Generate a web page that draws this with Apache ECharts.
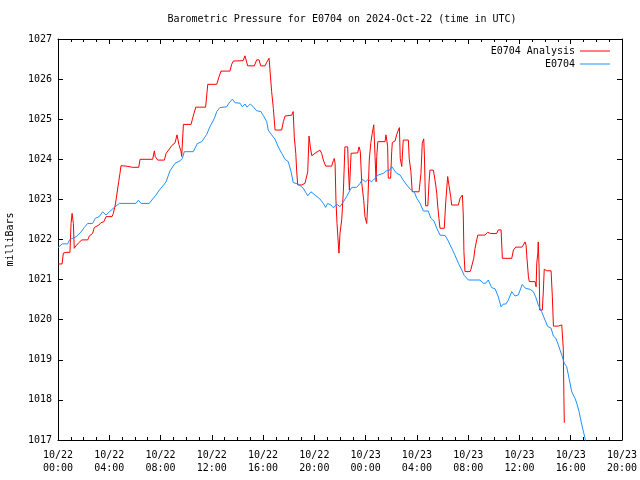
<!DOCTYPE html>
<html>
<head>
<meta charset="utf-8">
<script src="https://cdn.jsdelivr.net/npm/echarts@6/dist/echarts.min.js"></script>
<style>
html,body{margin:0;padding:0;background:#fff;}
#chart{width:640px;height:480px;}
</style>
</head>
<body>
<div id="chart"></div>
<script>
// Time labels are "DD HH:MM" in October 2024, UTC
const analysisTimes = ["22 00:00","22 00:19","22 00:25","22 00:37","22 00:45","22 00:56","22 01:01","22 01:06","22 01:12","22 01:16",
"22 01:24","22 01:37","22 01:52","22 02:19","22 02:27","22 02:42","22 02:50","22 03:11","22 03:21","22 03:34",
"22 03:45","22 04:13","22 04:19","22 04:28","22 04:35","22 04:44","22 04:50","22 04:55","22 05:18","22 05:50",
"22 06:18","22 06:24","22 07:23","22 07:31","22 07:35","22 07:47","22 08:18","22 08:26","22 08:38","22 08:52",
"22 09:08","22 09:17","22 09:26","22 09:36","22 09:39","22 09:47","22 10:23","22 10:29","22 10:45","22 11:31",
"22 11:41","22 12:23","22 12:34","22 12:43","22 13:25","22 13:33","22 13:41","22 14:27","22 14:35","22 14:48",
"22 15:19","22 15:30","22 15:41","22 15:49","22 16:09","22 16:17","22 16:28","22 16:40","22 16:48","22 16:56",
"22 17:27","22 17:35","22 17:43","22 18:14","22 18:21","22 18:26","22 18:33","22 18:37","22 18:42","22 19:01",
"22 19:16","22 19:24","22 19:29","22 19:35","22 19:41","22 19:48","22 20:03","22 20:26","22 20:34","22 20:42",
"22 20:53","22 21:21","22 21:29","22 21:33","22 21:37","22 21:41","22 21:46","22 21:52","22 21:55","22 22:00",
"22 22:08","22 22:16","22 22:23","22 22:28","22 22:36","22 22:39","22 22:44","22 22:52","22 23:23","22 23:29",
"22 23:35","22 23:42","22 23:51","22 23:57","23 00:05","23 00:10","23 00:17","23 00:24","23 00:31","23 00:38",
"23 00:44","23 00:49","23 00:52","23 00:57","23 01:31","23 01:35","23 01:39","23 01:43","23 01:46","23 01:57",
"23 02:02","23 02:05","23 02:18","23 02:25","23 02:33","23 02:38","23 02:42","23 02:49","23 02:56","23 03:20",
"23 03:24","23 03:32","23 03:38","23 04:10","23 04:19","23 04:25","23 04:32","23 04:35","23 04:38","23 04:41",
"23 04:51","23 04:57","23 05:01","23 05:17","23 05:21","23 05:28","23 05:33","23 05:37","23 05:43","23 05:48",
"23 06:08","23 06:15","23 06:21","23 06:24","23 06:32","23 06:38","23 06:43","23 07:14","23 07:22","23 07:33",
"23 07:37","23 07:40","23 07:45","23 08:09","23 08:13","23 08:19","23 08:26","23 08:32","23 08:40","23 08:45",
"23 09:19","23 09:31","23 09:38","23 09:45","23 10:13","23 10:21","23 10:34","23 10:40","23 11:24","23 11:32",
"23 11:43","23 12:11","23 12:18","23 12:26","23 12:31","23 12:34","23 12:42","23 12:46","23 13:13","23 13:18",
"23 13:21","23 13:26","23 13:28","23 13:32","23 13:35","23 13:41","23 13:47","23 13:52","23 13:56","23 14:08",
"23 14:28","23 14:34","23 14:39","23 15:02","23 15:18","23 15:22","23 15:25","23 15:28","23 15:30"];
const analysisValues = [1021.39,1021.39,1021.66,1021.68,1021.71,1021.68,1022.40,1022.65,1022.40,1021.78,
1021.84,1021.92,1021.99,1021.99,1022.09,1022.15,1022.30,1022.36,1022.42,1022.44,
1022.57,1022.57,1022.65,1022.86,1023.11,1023.44,1023.65,1023.84,1023.83,1023.80,
1023.80,1024.00,1024.00,1024.21,1024.07,1023.98,1023.98,1024.15,1024.23,1024.34,
1024.41,1024.61,1024.37,1024.19,1024.07,1024.87,1024.87,1025.00,1025.30,1025.30,
1025.87,1025.87,1026.06,1026.20,1026.20,1026.37,1026.45,1026.46,1026.58,1026.33,
1026.33,1026.48,1026.48,1026.33,1026.33,1026.42,1026.52,1025.69,1025.27,1024.73,
1024.73,1024.94,1025.08,1025.10,1025.19,1024.56,1024.15,1023.73,1023.36,1023.36,
1023.40,1023.40,1023.69,1024.58,1024.31,1024.09,1024.15,1024.23,1024.15,1023.98,
1023.83,1023.83,1023.97,1024.02,1023.90,1022.98,1022.40,1021.91,1021.66,1022.15,
1022.49,1023.23,1024.31,1024.33,1024.31,1023.82,1023.23,1024.15,1024.16,1024.31,
1024.20,1023.40,1022.98,1022.57,1022.40,1022.90,1023.98,1024.40,1024.65,1024.86,
1024.07,1023.44,1024.07,1024.44,1024.44,1024.61,1024.48,1024.31,1023.53,1023.53,
1024.19,1024.42,1024.46,1024.61,1024.73,1024.79,1024.02,1023.82,1024.48,1024.48,
1024.02,1023.69,1023.19,1023.19,1023.65,1024.40,1024.51,1024.11,1023.44,1022.84,
1022.84,1023.44,1023.73,1023.73,1023.61,1023.36,1023.15,1022.86,1022.53,1022.28,
1022.28,1022.94,1023.36,1023.57,1023.57,1023.07,1022.86,1022.86,1023.03,1023.11,
1022.61,1021.70,1021.20,1021.20,1021.26,1021.22,1021.53,1021.78,1021.99,1022.11,
1022.11,1022.18,1022.21,1022.15,1022.15,1022.24,1022.24,1021.53,1021.53,1021.74,
1021.81,1021.81,1021.86,1021.94,1021.86,1021.61,1021.07,1020.95,1020.95,1020.82,
1021.41,1021.66,1021.94,1021.30,1020.24,1020.20,1020.24,1020.74,1021.26,1021.22,
1021.22,1020.57,1019.84,1019.84,1019.87,1019.87,1019.29,1018.08,1017.43];

const stationTimes = ["22 00:00","22 00:20","22 00:45","22 00:55","22 01:25","22 01:48","22 02:03","22 02:19","22 02:42","22 02:55",
"22 03:13","22 03:29","22 03:45","22 04:00","22 04:24","22 04:47","22 06:05","22 06:16","22 06:29","22 07:07",
"22 07:23","22 07:39","22 07:54","22 08:10","22 08:26","22 08:44","22 09:08","22 09:31","22 09:42","22 09:51",
"22 10:33","22 10:52","22 11:13","22 11:36","22 11:51","22 12:12","22 12:23","22 12:38","22 13:10","22 13:20",
"22 13:36","22 13:49","22 14:12","22 14:23","22 14:35","22 14:45","22 15:00","22 15:14","22 15:30","22 15:50",
"22 16:01","22 16:17","22 16:24","22 16:40","22 16:56","22 17:11","22 17:27","22 17:43","22 17:58","22 18:11",
"22 18:21","22 18:45","22 19:08","22 19:29","22 19:44","22 20:03","22 20:26","22 20:42","22 20:53","22 21:02",
"22 21:18","22 21:29","22 21:45","22 22:00","22 22:16","22 22:31","22 22:47","22 22:55","22 23:18","22 23:34",
"22 23:44","23 00:00","23 00:12","23 00:28","23 00:44","23 00:59","23 01:23","23 01:39","23 01:49","23 02:02",
"23 02:14","23 02:25","23 02:41","23 02:56","23 03:12","23 03:28","23 03:48","23 03:59","23 04:15","23 04:30",
"23 04:53","23 05:05","23 05:20","23 05:33","23 05:48","23 06:12","23 06:27","23 06:43","23 06:58","23 07:14",
"23 07:30","23 07:42","23 08:01","23 08:55","23 09:11","23 09:22","23 09:34","23 09:50","23 10:06","23 10:21",
"23 10:34","23 10:44","23 10:56","23 11:08","23 11:24","23 11:39","23 11:55","23 12:13","23 12:29","23 12:49",
"23 13:05","23 13:16","23 13:28","23 13:44","23 13:52","23 14:00","23 14:12","23 14:28","23 14:39","23 14:50",
"23 15:02","23 15:18","23 15:30","23 15:41","23 15:52","23 16:05","23 16:20","23 16:28","23 16:39","23 16:51",
"23 17:07","23 17:15"];
const stationValues = [1021.80,1021.89,1021.89,1022.00,1022.07,1022.19,1022.30,1022.40,1022.40,1022.53,
1022.57,1022.69,1022.61,1022.69,1022.80,1022.90,1022.90,1022.98,1022.90,1022.90,
1023.01,1023.11,1023.23,1023.33,1023.44,1023.71,1023.90,1023.96,1024.02,1024.19,
1024.19,1024.39,1024.44,1024.62,1024.81,1025.02,1025.19,1025.29,1025.31,1025.40,
1025.50,1025.41,1025.40,1025.31,1025.38,1025.30,1025.38,1025.31,1025.21,1025.19,
1025.09,1024.94,1024.73,1024.61,1024.50,1024.31,1024.15,1024.00,1023.94,1023.69,
1023.42,1023.38,1023.28,1023.09,1023.19,1023.11,1023.01,1022.90,1022.80,1022.90,
1022.86,1022.79,1022.88,1022.82,1022.94,1023.07,1023.23,1023.30,1023.30,1023.40,
1023.50,1023.44,1023.50,1023.44,1023.53,1023.61,1023.65,1023.72,1023.71,1023.82,
1023.73,1023.65,1023.61,1023.48,1023.36,1023.26,1023.18,1023.03,1022.90,1022.71,
1022.71,1022.53,1022.46,1022.28,1022.11,1022.10,1021.96,1021.78,1021.61,1021.41,
1021.24,1021.10,1020.99,1020.99,1020.91,1020.91,1020.99,1020.80,1020.77,1020.57,
1020.32,1020.39,1020.39,1020.49,1020.70,1020.59,1020.62,1020.88,1020.78,1020.76,
1020.70,1020.57,1020.37,1020.20,1020.09,1020.06,1019.83,1019.79,1019.59,1019.54,
1019.37,1019.12,1018.91,1018.83,1018.54,1018.20,1018.04,1017.92,1017.71,1017.40,
1017.04,1016.85];

const seriesNames = ["E0704 Analysis", "E0704"];
const seriesColors = ["#ff0000", "#1e90ff"];
const titleText = "Barometric Pressure for E0704 on 2024-Oct-22 (time in UTC)";
const yAxisTitle = "milliBars";
const xRangeHours = [0, 44];
const yRange = [1017, 1027];

function toHours(s) {
  const day = parseInt(s.slice(0, 2), 10);
  const hh = parseInt(s.slice(3, 5), 10);
  const mm = parseInt(s.slice(6, 8), 10);
  return (day - 22) * 24 + hh + mm / 60;
}
function pairs(times, vals) { return times.map((t, i) => [toHours(t), vals[i]]); }
function pad(n) { return (n < 10 ? "0" : "") + n; }

const FONT = "DejaVu Sans Mono";
const chart = echarts.init(document.getElementById("chart"), null, { renderer: "canvas" });

const xCommon = {
  type: "value", min: xRangeHours[0], max: xRangeHours[1], interval: 4,
  splitLine: { show: false },
  axisLine: { show: true, onZero: false, lineStyle: { color: "#000", width: 1 } },
  axisTick: { show: true, inside: true, length: 5, lineStyle: { color: "#000" } },
  minorTick: { show: true, splitNumber: 4, length: 3, lineStyle: { color: "#000" } },
  minorSplitLine: { show: false }
};
const yCommon = {
  type: "value", min: yRange[0], max: yRange[1], interval: 1,
  splitLine: { show: false },
  axisLine: { show: true, onZero: false, lineStyle: { color: "#000", width: 1 } },
  axisTick: { show: true, inside: true, length: 5, lineStyle: { color: "#000" } }
};

chart.setOption({
  animation: false,
  backgroundColor: "#fff",
  title: {
    text: titleText, left: 342, top: 14, textAlign: "center", padding: 0,
    textStyle: { fontFamily: FONT, fontSize: 10, fontWeight: "normal", color: "#000" }
  },
  legend: [
    { data: [seriesNames[0]], right: 25, top: 41, align: "right", orient: "vertical",
      icon: "rect", itemWidth: 30, itemHeight: 1,
      textStyle: { fontFamily: FONT, fontSize: 10, color: "#000" } },
    { data: [seriesNames[1]], right: 25, top: 54, align: "right", orient: "vertical",
      icon: "rect", itemWidth: 30, itemHeight: 1,
      textStyle: { fontFamily: FONT, fontSize: 10, color: "#000" } }
  ],
  grid: { left: 58, right: 18, top: 39, bottom: 40, containLabel: false, outerBoundsMode: "none" },
  xAxis: [
    Object.assign({}, xCommon, {
      position: "bottom",
      axisLabel: {
        margin: 9, fontFamily: FONT, fontSize: 10, color: "#000", lineHeight: 13,
        formatter: function (v) {
          const day = 22 + Math.floor(v / 24);
          const hh = v % 24;
          return "10/" + day + "\n" + pad(hh) + ":00";
        }
      }
    }),
    Object.assign({}, xCommon, { position: "top", axisLabel: { show: false } })
  ],
  yAxis: [
    Object.assign({}, yCommon, {
      position: "left",
      name: yAxisTitle, nameLocation: "middle", nameGap: 43, nameRotate: 90,
      nameTextStyle: { fontFamily: FONT, fontSize: 10, color: "#000" },
      axisLabel: { margin: 6, fontFamily: FONT, fontSize: 10, color: "#000",
        formatter: function (v) { return String(v); } }
    }),
    Object.assign({}, yCommon, { position: "right", axisLabel: { show: false } })
  ],
  series: [
    { name: seriesNames[0], type: "line", xAxisIndex: 0, yAxisIndex: 0,
      data: pairs(analysisTimes, analysisValues), showSymbol: false, symbol: "none",
      clip: true, color: seriesColors[0], lineStyle: { width: 1, color: seriesColors[0] } },
    { name: seriesNames[1], type: "line", xAxisIndex: 0, yAxisIndex: 0,
      data: pairs(stationTimes, stationValues), showSymbol: false, symbol: "none",
      clip: true, color: seriesColors[1], lineStyle: { width: 1, color: seriesColors[1] } }
  ]
});
</script>
</body>
</html>
